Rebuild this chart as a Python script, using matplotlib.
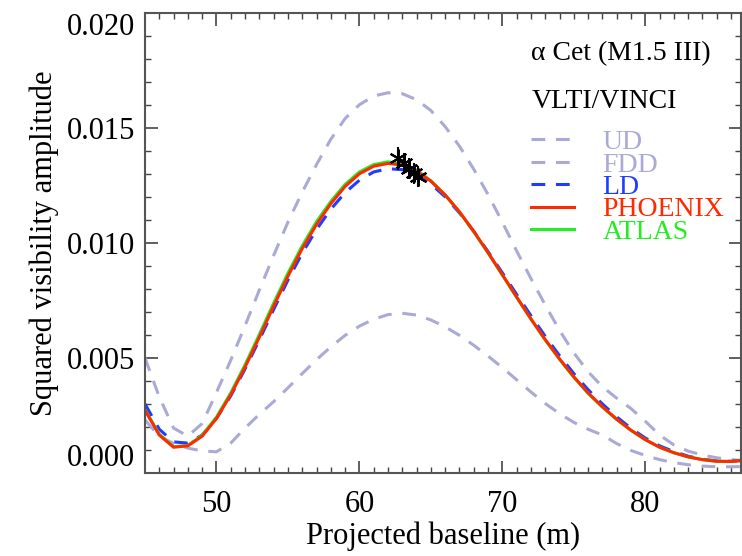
import numpy as np
import matplotlib.pyplot as plt

plt.rcParams['font.family'] = ['Liberation Serif', 'DejaVu Serif']

# baseline grid (m)
base = [45, 46, 47, 48, 49, 50, 51, 52, 53, 54, 55, 56, 57, 58, 59, 60, 61, 62, 63, 64, 65,
        66, 67, 68, 69, 70, 71, 72, 73, 74, 75, 76, 77, 78, 79, 80, 81, 82, 83, 84, 85, 86, 86.7]

ud = [0.00500, 0.00330, 0.00195, 0.00160, 0.00215, 0.00350, 0.00490, 0.00640, 0.00795, 0.00945,
      0.01090, 0.01220, 0.01340, 0.01450, 0.01540, 0.01600, 0.01638, 0.01652, 0.01648, 0.01622, 0.01575,
      0.01505, 0.01420, 0.01320, 0.01210, 0.01090, 0.00965, 0.00845, 0.00730, 0.00620, 0.00522, 0.00440,
      0.00375, 0.00325, 0.00280, 0.00225, 0.00165, 0.00122, 0.00095, 0.00078, 0.00066, 0.00058, 0.00055]

fdd = [0.00230, 0.00160, 0.00128, 0.00108, 0.00096, 0.00092, 0.00130, 0.00195, 0.00255, 0.00310,
       0.00370, 0.00432, 0.00492, 0.00548, 0.00598, 0.00638, 0.00668, 0.00688, 0.00694, 0.00686, 0.00665,
       0.00635, 0.00598, 0.00555, 0.00508, 0.00458, 0.00405, 0.00352, 0.00302, 0.00258, 0.00220, 0.00190,
       0.00165, 0.00128, 0.00098, 0.00076, 0.00058, 0.00045, 0.00036, 0.00030, 0.00027, 0.00027, 0.00028]

ld = [0.00300, 0.00190, 0.00135, 0.00130, 0.00165, 0.00237, 0.00335, 0.00452, 0.00578, 0.00710,
      0.00838, 0.00955, 0.01058, 0.01146, 0.01218, 0.01272, 0.01308, 0.01322, 0.01318, 0.01296, 0.01256,
      0.01200, 0.01130, 0.01050, 0.00962, 0.00870, 0.00776, 0.00684, 0.00594, 0.00510, 0.00432, 0.00362,
      0.00300, 0.00244, 0.00194, 0.00152, 0.00118, 0.00093, 0.00073, 0.00060, 0.00052, 0.00051, 0.00055]

phoenix = [0.00273, 0.00165, 0.00112, 0.00118, 0.00160, 0.00237, 0.00340, 0.00460, 0.00590, 0.00725,
           0.00855, 0.00975, 0.01080, 0.01170, 0.01245, 0.01300, 0.01333, 0.01345, 0.01338, 0.01312, 0.01268,
           0.01208, 0.01135, 0.01050, 0.00958, 0.00862, 0.00765, 0.00670, 0.00580, 0.00496, 0.00418, 0.00348,
           0.00288, 0.00234, 0.00186, 0.00145, 0.00112, 0.00088, 0.00070, 0.00058, 0.00051, 0.00050, 0.00054]

atlas = [0.00275, 0.00168, 0.00114, 0.00120, 0.00164, 0.00243, 0.00348, 0.00470, 0.00602, 0.00738,
         0.00868, 0.00987, 0.01092, 0.01180, 0.01254, 0.01308, 0.01340, 0.01352, 0.01344, 0.01316, 0.01270,
         0.01208, 0.01134, 0.01048, 0.00956, 0.00860, 0.00763, 0.00668, 0.00578, 0.00494, 0.00416, 0.00346,
         0.00286, 0.00232, 0.00185, 0.00145, 0.00112, 0.00088, 0.00070, 0.00058, 0.00051, 0.00050, 0.00054]

# VINCI measurements
obs_b = [62.7, 63.1, 63.45, 63.8, 64.1]
obs_v2 = [0.01368, 0.01345, 0.01322, 0.01302, 0.01288]
obs_err = [0.00050, 0.00045, 0.00045, 0.00045, 0.00045]

lav = '#aaaad6'
fig = plt.figure(figsize=(7.42, 5.56), dpi=100)
ax = fig.add_axes([0.1954, 0.1493, 0.8033, 0.8279])

dash = (0, (4.5, 3.5))
l1, = ax.plot(base, ud, color=lav, lw=2.2, ls=dash)
l2, = ax.plot(base, fdd, color=lav, lw=2.2, ls=dash)
l3, = ax.plot(base, ld, color='#1f3cff', lw=2.2, ls=dash)
l5, = ax.plot(base, atlas, color='#22ee22', lw=2.2)
l4, = ax.plot(base, phoenix, color='#ff2a00', lw=2.2)
ax.errorbar(obs_b, obs_v2, yerr=obs_err, fmt='none', ecolor='black', elinewidth=1.5, capsize=0)
ax.plot(obs_b, obs_v2, ls='none', marker=(6, 2, 0), ms=13, mec='black', mew=1.5, color='black')

ax.set_xlim(45, 86.7)
ax.set_ylim(0, 0.020)
ax.set_xticks([50, 60, 70, 80])
ax.set_xticks(np.arange(46, 87, 1), minor=True)
ax.set_yticks([0.0, 0.005, 0.010, 0.015, 0.020])
ax.set_yticklabels(['0.000', '0.005', '0.010', '0.015', '0.020'])
ax.set_yticks(np.arange(0, 0.0201, 0.001), minor=True)
ax.tick_params(which='both', direction='in', top=True, right=True, colors='#444444',
               labelcolor='black', labelsize=22)
ax.tick_params(which='major', length=9, width=1.2)
ax.tick_params(which='minor', length=4.5, width=1.0)
ax.tick_params(axis='x', pad=12)
ax.tick_params(axis='y', pad=7)
ylabs = ax.get_yticklabels()
ylabs[0].set_va('bottom')
ylabs[-1].set_va('top')
for s in ax.spines.values():
    s.set_color('#555555')
    s.set_linewidth(1.5)

ax.set_xlabel('Projected baseline (m)', fontsize=22, labelpad=2)
ax.set_ylabel('Squared visibility amplitude', fontsize=22, labelpad=6)

ax.text(0.648, 0.91, 'α Cet (M1.5 III)', transform=ax.transAxes, fontsize=20, va='center')
ax.text(0.648, 0.806, 'VLTI/VINCI', transform=ax.transAxes, fontsize=20, va='center')

leg = ax.legend([l1, l2, l3, l4, l5], ['UD', 'FDD', 'LD', 'PHOENIX', 'ATLAS'],
                loc='upper left', bbox_to_anchor=(0.625, 0.776), frameon=False, fontsize=20,
                handlelength=1.55, handletextpad=1.0, labelspacing=-0.11, borderpad=0)
for t, c in zip(leg.get_texts(), [lav, lav, '#1f3cff', '#ff2a00', '#22ee22']):
    t.set_color(c)

fig.savefig('out.png', dpi=100)
